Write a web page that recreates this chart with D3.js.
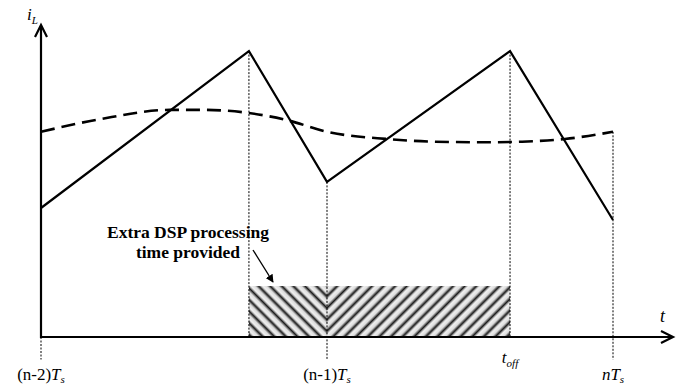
<!DOCTYPE html>
<html>
<head>
<meta charset="utf-8">
<script src="https://cdn.jsdelivr.net/npm/d3@7"></script>
<style>
  body { margin: 0; background: #fff; }
  svg { display: block; }
  text { font-family: "Liberation Serif", "Times New Roman", serif; fill: #000; }
</style>
</head>
<body>
<div id="chart"></div>
<script>
// time in switching periods, (n-2)Ts = 0
const periodTicks = [0, 1, 2];
const periodLabels = ['(n-2)', '(n-1)', 'n'];
const iLTimes = [0, 0.727, 1, 1.64, 2];
const iLValues = [4.3, 9.53, 5.17, 9.53, 3.9];
const avgTimes = [0, 0.206, 0.451, 0.57, 0.724, 0.86, 1.0, 1.21, 1.378, 1.573, 1.682, 1.832, 2.0];
const avgValues = [6.84, 7.26, 7.57, 7.57, 7.47, 7.23, 6.84, 6.6, 6.51, 6.49, 6.51, 6.6, 6.84];
const tOff = 1.64;
const dspWindow = [0.727, 1.64];
const dspHeight = 1.7;

const width = 683, height = 386;
const margin = { top: 37, right: 70, bottom: 49, left: 41 };

const svg = d3.select('#chart').append('svg')
  .attr('width', width)
  .attr('height', height);

const x = d3.scaleLinear().domain([0, 2]).range([margin.left, width - margin.right]);
const y = d3.scaleLinear().domain([0, 10]).range([height - margin.bottom, margin.top]);

const defs = svg.append('defs');

// blurred stripe gradient
const grad = defs.append('linearGradient').attr('id', 'stripe');
[[0, '#e6e6e6'], [0.2, '#dcdcdc'], [0.4, '#555'], [0.5, '#1e1e1e'], [0.6, '#6a6a6a'], [0.78, '#f2f2f2'], [1, '#e6e6e6']]
  .forEach(s => grad.append('stop').attr('offset', s[0]).attr('stop-color', s[1]));

function hatch(id, angle) {
  const p = defs.append('pattern')
    .attr('id', id)
    .attr('patternUnits', 'userSpaceOnUse')
    .attr('width', 8.2)
    .attr('height', 20)
    .attr('patternTransform', `translate(${x(1)},${y(0)}) rotate(${angle})`);
  p.append('rect').attr('width', 8.2).attr('height', 20).attr('fill', 'url(#stripe)');
}
hatch('hatchL', -45);
hatch('hatchR', 45);

// hatched DSP window
svg.append('rect')
  .attr('x', x(dspWindow[0])).attr('y', y(dspHeight))
  .attr('width', x(1) - x(dspWindow[0])).attr('height', y(0) - y(dspHeight))
  .attr('fill', 'url(#hatchL)');
svg.append('rect')
  .attr('x', x(1)).attr('y', y(dspHeight))
  .attr('width', x(dspWindow[1]) - x(1)).attr('height', y(0) - y(dspHeight))
  .attr('fill', 'url(#hatchR)');

// dotted guides
const guides = [
  { t: 0, top: 0, bottom: -0.75 },
  { t: iLTimes[1], top: iLValues[1], bottom: 0 },
  { t: 1, top: iLValues[2], bottom: -0.75 },
  { t: tOff, top: iLValues[3], bottom: 0 },
  { t: 2, top: avgValues[avgValues.length - 1], bottom: -0.75 }
];
svg.selectAll('.guide')
  .data(guides)
  .enter().append('line')
  .attr('class', 'guide')
  .attr('x1', d => x(d.t)).attr('x2', d => x(d.t))
  .attr('y1', d => y(d.top)).attr('y2', d => y(d.bottom))
  .attr('stroke', '#000')
  .attr('stroke-width', 1)
  .attr('stroke-dasharray', '2,1.5');

// inductor current
const line = d3.line().x(d => x(d[0])).y(d => y(d[1]));
svg.append('path')
  .datum(iLTimes.map((t, i) => [t, iLValues[i]]))
  .attr('d', line)
  .attr('fill', 'none')
  .attr('stroke', '#000')
  .attr('stroke-width', 2.2)
  .attr('stroke-linejoin', 'miter');

// average current
svg.append('path')
  .datum(avgTimes.map((t, i) => [t, avgValues[i]]))
  .attr('d', line.curve(d3.curveMonotoneX))
  .attr('fill', 'none')
  .attr('stroke', '#000')
  .attr('stroke-width', 2.6)
  .attr('stroke-dasharray', '14,7');

// axes
const axes = svg.append('g').attr('stroke', '#000').attr('stroke-width', 2.2).attr('fill', 'none');
axes.append('line')
  .attr('x1', x(0)).attr('x2', x(0))
  .attr('y1', y(0) + 1).attr('y2', 26);
axes.append('line')
  .attr('x1', x(0) - 1).attr('x2', 672)
  .attr('y1', y(0)).attr('y2', y(0));
axes.append('path')
  .attr('d', `M${x(0) - 6},${37} L${x(0)},${25} L${x(0) + 6},${37}`);
axes.append('path')
  .attr('d', `M${661},${y(0) - 6} L${673},${y(0)} L${661},${y(0) + 6}`);

// axis labels
const iL = svg.append('text').attr('x', 27).attr('y', 20)
  .style('font-size', '17px').style('font-style', 'italic');
iL.append('tspan').text('i');
iL.append('tspan').attr('dy', 4).style('font-size', '11px').text('L');

svg.append('text').attr('x', 660).attr('y', 322)
  .style('font-size', '18px').style('font-style', 'italic').text('t');

// period labels
const lab = svg.selectAll('.plabel')
  .data(periodTicks)
  .enter().append('text')
  .attr('class', 'plabel')
  .attr('x', d => x(d))
  .attr('y', 380)
  .attr('text-anchor', 'middle')
  .style('font-size', '17px');
lab.append('tspan').attr('font-style', (d, i) => i === 2 ? 'italic' : 'normal').text((d, i) => periodLabels[i]);
lab.append('tspan').attr('font-style', 'italic').text('T');
lab.append('tspan').attr('font-style', 'italic').attr('dy', 3).style('font-size', '11px').text('s');

const toff = svg.append('text').attr('x', x(tOff)).attr('y', 363)
  .attr('text-anchor', 'middle')
  .style('font-size', '17px').style('font-style', 'italic');
toff.append('tspan').text('t');
toff.append('tspan').attr('dy', 4).style('font-size', '11px').text('off');

// annotation
const note = svg.append('text')
  .attr('text-anchor', 'middle')
  .style('font-size', '17.5px').style('font-weight', 'bold');
note.append('tspan').attr('x', 188).attr('y', 238).text('Extra DSP processing');
note.append('tspan').attr('x', 188).attr('y', 258).text('time provided');

defs.append('marker')
  .attr('id', 'head')
  .attr('viewBox', '0 0 10 10')
  .attr('refX', 9).attr('refY', 5)
  .attr('markerWidth', 8).attr('markerHeight', 8)
  .attr('markerUnits', 'userSpaceOnUse')
  .attr('orient', 'auto')
  .append('path').attr('d', 'M0,0 L10,5 L0,10 Z').attr('fill', '#000');

svg.append('line')
  .attr('x1', 253).attr('y1', 250).attr('x2', 273).attr('y2', 282)
  .attr('stroke', '#000').attr('stroke-width', 1.3)
  .attr('marker-end', 'url(#head)');
</script>
</body>
</html>
